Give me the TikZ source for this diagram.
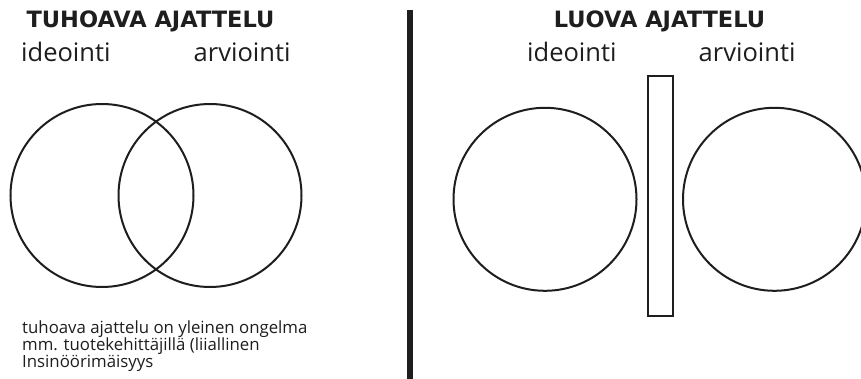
\documentclass[tikz,border=0pt]{standalone}
\usepackage{fontspec}
\setmainfont{Open Sans}
\newfontfamily\headfont{DejaVu Sans}

\tikzset{
    heading/.style={anchor=base, inner sep=0pt, font=\headfont\bfseries\fontsize{22.5}{27}\selectfont, text=lineColour},
    label/.style={anchor=base west, inner sep=0pt, font=\fontsize{25.5}{30}\selectfont, text=lineColour},
    note/.style={anchor=base west, inner sep=0pt, font=\fontsize{16.8}{20}\selectfont, text=lineColour},
    ring/.style={draw=lineColour, line width=2pt},
}

\begin{document}
\begin{tikzpicture}[x=1pt, y=-1pt]
    % Define colours
    \definecolor{lineColour}{HTML}{1E1E1E}

    % Define circle radius
    \def\ringRadius{91.5}

    % Picture frame
    \clip (0,0) rectangle (861,379);
    \fill[white] (0,0) rectangle (861,379);

    % Divider between the two halves
    \draw[lineColour, line width=5.5pt] (410,10) -- (410,379);

    % Left half: headings
    \node[heading] (headL) at (150.5,28) {TUHOAVA AJATTELU};
    \node[label] (ideaL) at (21,62) {ideointi};
    \node[label] (evalL) at (193.5,62) {arviointi};

    % Left half: overlapping circles
    \coordinate (cIdeaL) at (102,195.5);
    \coordinate (cEvalL) at (210,195.5);
    \draw[ring] (cIdeaL) circle (\ringRadius);
    \draw[ring] (cEvalL) circle (\ringRadius);

    % Left half: note
    \foreach \i/\y/\txt in {1/333/{tuhoava ajattelu on yleinen ongelma},
                            2/350/{mm. tuotekehittäjillä (liiallinen},
                            3/367/{Insinöörimäisyys}}
        \node[note] (note\i) at (22,\y) {\txt};

    % Right half: headings
    \node[heading] (headR) at (659.5,28) {LUOVA AJATTELU};
    \node[label] (ideaR) at (527,62) {ideointi};
    \node[label] (evalR) at (698.5,62) {arviointi};

    % Right half: separated circles with a wall in between
    \coordinate (cIdeaR) at (545,199.3);
    \coordinate (cEvalR) at (774.5,199.3);
    \draw[ring] (cIdeaR) circle (\ringRadius);
    \draw[ring] (cEvalR) circle (\ringRadius);
    \draw[ring] (647.5,76.5) rectangle (673,315.5);

\end{tikzpicture}
\end{document}
